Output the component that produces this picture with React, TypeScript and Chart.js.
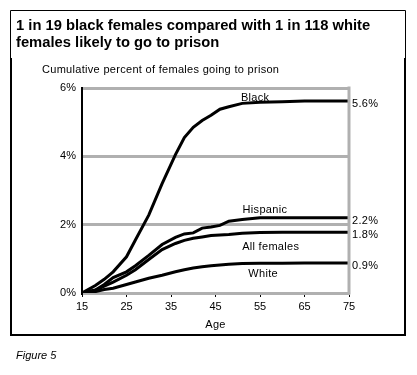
import React, { useEffect, useRef } from "react";
import { Chart, registerables } from "chart.js";

Chart.register(...registerables);

const ages = [15, 18, 20, 22, 25, 27, 30, 33, 36, 38, 40, 42, 44, 46, 48, 51, 55, 60, 65, 70, 75];
const black = [0, 0.22, 0.4, 0.62, 1.06, 1.55, 2.28, 3.2, 4.05, 4.55, 4.85, 5.05, 5.2, 5.38, 5.45, 5.55, 5.58, 5.6, 5.62, 5.62, 5.62];
const hispanic = [0, 0.09, 0.25, 0.45, 0.62, 0.8, 1.1, 1.42, 1.63, 1.73, 1.76, 1.9, 1.93, 1.98, 2.1, 2.15, 2.2, 2.2, 2.2, 2.2, 2.2];
const allFemales = [0, 0.08, 0.2, 0.32, 0.52, 0.68, 0.98, 1.27, 1.45, 1.54, 1.6, 1.64, 1.68, 1.7, 1.71, 1.75, 1.77, 1.78, 1.78, 1.78, 1.78];
const white = [0, 0.04, 0.1, 0.14, 0.25, 0.32, 0.43, 0.52, 0.62, 0.68, 0.73, 0.77, 0.8, 0.82, 0.84, 0.86, 0.87, 0.87, 0.88, 0.88, 0.88];

const seriesNames = ["Black", "Hispanic", "All females", "White"];
const endLabels = ["5.6%", "2.2%", "1.8%", "0.9%"];
const xTicks = [15, 25, 35, 45, 55, 65, 75];
const yTicks = [0, 2, 4, 6];

const titleLines = ["1 in 19 black females compared with 1 in 118 white", "females likely to go to prison"];
const yTitle = "Cumulative percent of females going to prison";
const xTitle = "Age";
const footer = "Figure 5";

const FONT = "'Liberation Sans', Arial, sans-serif";

export default function App() {
  const ref = useRef<HTMLCanvasElement>(null);
  useEffect(() => {
    const all = [black, hispanic, allFemales, white];
    const mk = (vals: number[]) => ages.map((a, i) => ({ x: a, y: vals[i] }));
    const decor = {
      id: "decor",
      beforeDraw(chart: any) {
        const c = chart.ctx;
        c.save();
        c.fillStyle = "#fff";
        c.fillRect(0, 0, chart.width, chart.height);
        c.restore();
      },
      afterDraw(chart: any) {
        const c = chart.ctx;
        const xs = chart.scales.x;
        const ys = chart.scales.y;
        const area = chart.chartArea;
        c.save();
        // right gray border
        c.strokeStyle = "#b0b0b0";
        c.lineWidth = 3;
        c.beginPath();
        c.moveTo(area.right, area.top - 1.5);
        c.lineTo(area.right, area.bottom + 1.5);
        c.stroke();
        // outer box
        c.strokeStyle = "#000";
        c.lineWidth = 1;
        c.beginPath();
        c.moveTo(10.5, 58);
        c.lineTo(10.5, 10.5);
        c.lineTo(405.5, 10.5);
        c.lineTo(405.5, 58);
        c.stroke();
        c.lineWidth = 2;
        c.beginPath();
        c.moveTo(11, 58);
        c.lineTo(11, 335);
        c.lineTo(405, 335);
        c.lineTo(405, 58);
        c.stroke();
        // title
        c.fillStyle = "#000";
        c.textBaseline = "alphabetic";
        c.textAlign = "left";
        c.font = `bold 14.75px ${FONT}`;
        c.fillText(titleLines[0], 16, 30);
        c.fillText(titleLines[1], 16, 47);
        c.font = `11px ${FONT}`;
        (c as any).letterSpacing = "0.3px";
        c.fillText(yTitle, 42, 73);
        c.textAlign = "center";
        c.fillText(xTitle, xs.getPixelForValue(45), 328);
        c.textAlign = "left";
        (c as any).letterSpacing = "0px";
        c.font = `italic 11px ${FONT}`;
        c.fillText(footer, 16, 359);
        // end labels
        c.font = `11px ${FONT}`;
        (c as any).letterSpacing = "0.3px";
        c.textBaseline = "middle";
        all.forEach((vals, i) => {
          c.fillText(endLabels[i], area.right + 3, ys.getPixelForValue(vals[vals.length - 1]) + 3);
        });
        // series labels
        c.textAlign = "center";
        c.textBaseline = "middle";
        const pos = [
          [53.9, 5.71],
          [56.1, 2.43],
          [57.4, 1.36],
          [55.7, 0.55],
        ];
        seriesNames.forEach((n, i) => {
          c.fillText(n, xs.getPixelForValue(pos[i][0]), ys.getPixelForValue(pos[i][1]));
        });
        c.restore();
      },
    };
    const chart = new Chart(ref.current!, {
      type: "line",
      data: {
        datasets: all.map((vals, i) => ({
          label: seriesNames[i],
          data: mk(vals),
          borderColor: "#000",
          borderWidth: 3,
          pointRadius: 0,
          tension: 0,
          fill: false,
        })),
      },
      options: {
        animation: false,
        responsive: false,
        events: [],
        layout: { padding: { left: 0, right: 68, top: 88, bottom: 0 } },
        plugins: { legend: { display: false }, tooltip: { enabled: false }, title: { display: false } },
        scales: {
          x: {
            type: "linear",
            min: 15,
            max: 75,
            afterFit: (s: any) => {
              s.height = 82;
            },
            afterBuildTicks: (s: any) => {
              s.ticks = xTicks.map((v) => ({ value: v }));
            },
            ticks: {
              color: "#000",
              font: { family: FONT, size: 11 },
              padding: 3,
              maxRotation: 0,
              callback: (v: any) => String(v),
            },
            grid: { drawOnChartArea: false, drawTicks: true, tickLength: 4, color: "#000", lineWidth: 1 },
            border: { display: true, color: "#b0b0b0", width: 3 },
          },
          y: {
            type: "linear",
            min: 0,
            max: 6,
            afterFit: (s: any) => {
              s.width = 82;
            },
            afterBuildTicks: (s: any) => {
              s.ticks = yTicks.map((v) => ({ value: v }));
            },
            ticks: {
              color: "#000",
              font: { family: FONT, size: 11 },
              padding: 6,
              callback: (v: any) => v + "%",
            },
            grid: { drawTicks: false, color: (ctx: any) => (ctx.tick && ctx.tick.value === 0 ? "rgba(0,0,0,0)" : "#b0b0b0"), lineWidth: 3 },
            border: { display: true, color: "#000", width: 2 },
          },
        },
      },
      plugins: [decor],
    });
    return () => chart.destroy();
  }, []);
  return (
    <div style={{ position: "fixed", left: 0, top: 0, width: 417, height: 375, background: "#fff" }}>
      <canvas ref={ref} width={417} height={375} style={{ display: "block", width: 417, height: 375 }} />
    </div>
  );
}
